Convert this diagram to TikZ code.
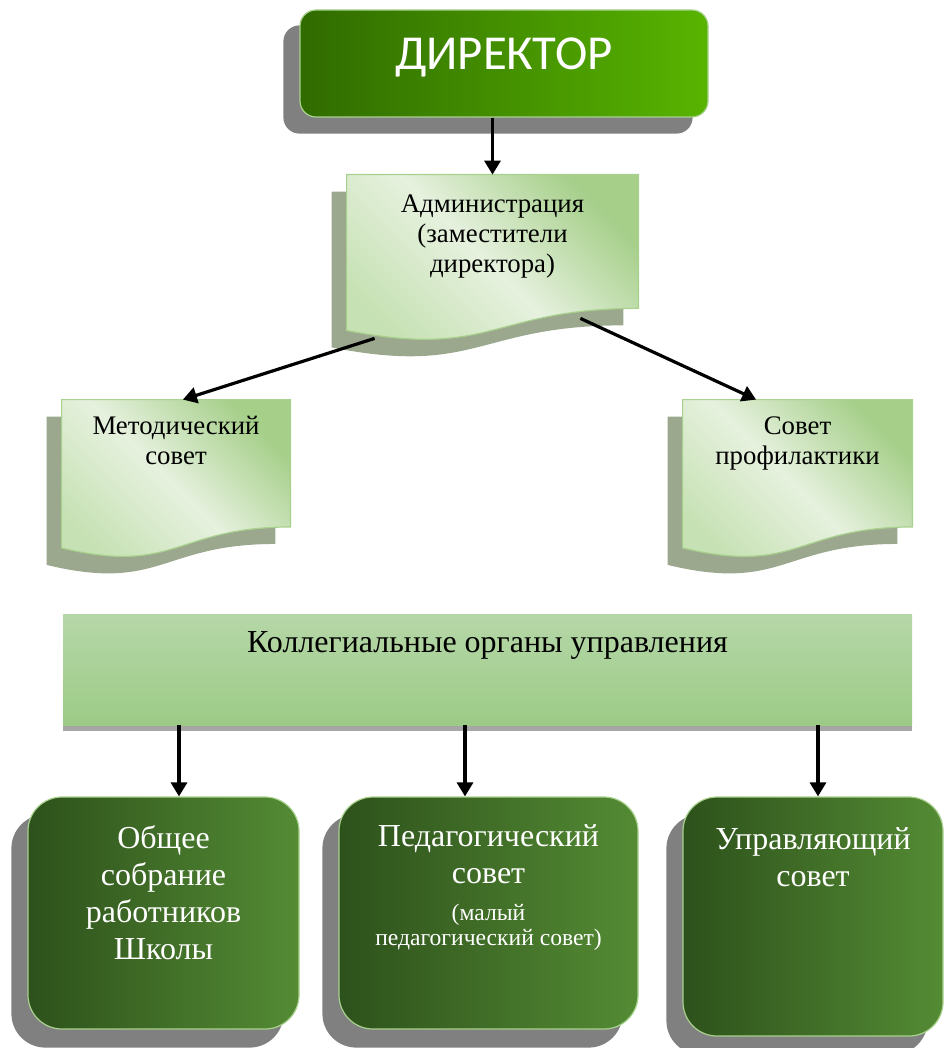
\documentclass[tikz,border=0pt]{standalone}
\usepackage{fontspec}
\setmainfont{Liberation Serif}
\newfontfamily\dirfont{Carlito}
\usetikzlibrary{arrows.meta,calc,positioning,backgrounds}

\definecolor{dirleft}{HTML}{306B00}
\definecolor{dirright}{HTML}{58B400}
\definecolor{edgegreen}{HTML}{A9D18E}
\definecolor{docdark}{HTML}{A6CF8A}
\definecolor{doclight}{HTML}{E6F1DE}
\definecolor{doclow}{HTML}{C6E1B3}
\definecolor{docshadow}{HTML}{9BA88E}
\definecolor{bartop}{HTML}{B6D7A8}
\definecolor{barbottom}{HTML}{9CCB86}
\definecolor{boxleft}{HTML}{2D511B}
\definecolor{boxright}{HTML}{548B34}
\definecolor{shadowgray}{HTML}{808080}
\definecolor{bargray}{HTML}{A6A6A6}

\tikzset{
  arr/.style={line width=1.6pt, -{Triangle[length=7pt,width=8pt]}},
  dirbox/.style={rounded corners=8pt, draw=edgegreen, line width=0.6pt,
    left color=dirleft, right color=dirright, inner sep=0pt,
    minimum width=204pt, minimum height=53.5pt},
  docnode/.style={inner sep=0pt, minimum width=114pt, minimum height=79pt},
  docshape/.style={draw=edgegreen, line width=0.6pt, top color=docdark,
    bottom color=doclow, middle color=doclight, shading angle=-45},
  doctext/.style={font=\fontsize{13.4pt}{15pt}\selectfont, align=center, inner sep=0pt},
  barbox/.style={top color=bartop, bottom color=barbottom, inner sep=0pt,
    minimum width=424.5pt, minimum height=55.5pt},
  greenbox/.style={rounded corners=17pt, draw=edgegreen, line width=0.6pt,
    left color=boxleft, right color=boxright, inner sep=0pt,
    minimum width=135.5pt, minimum height=116pt},
  boxtext/.style={font=\fontsize{16pt}{18.5pt}\selectfont, text=white,
    align=center, inner sep=0pt},
}
\newcommand\smalltxt{\fontsize{11.8pt}{12pt}\selectfont}
% document shape (flat top, wavy bottom)
\newcommand\docpath[1]{(#1.north west) -- (#1.north east)
  -- ($(#1.south east)!0.198!(#1.north east)$)
  .. controls ($(#1.south)!0.198!(#1.north)$) and ($(#1.south)!-0.1075!(#1.north)$)
  .. ($(#1.south west)!0.066!(#1.north west)$) -- cycle}

\begin{document}
\begin{tikzpicture}[x=0.5pt,y=-0.5pt]
  \useasboundingbox (0,0) rectangle (944,1048);

  % top
  \node[dirbox, label={[anchor=base, yshift=-30pt, text=white,
      font=\dirfont\fontsize{24.4pt}{28pt}\selectfont]north:ДИРЕКТОР}]
    (dir) at (504,63.5) {};
  \node[docnode, minimum width=145.5pt, minimum height=83pt,
      label={[doctext, anchor=north, yshift=-9.7pt]north:Администрация\\(заместители\\директора)}]
    (adm) at (492.5,258) {};

  % councils
  \node[docnode, label={[doctext, anchor=north, yshift=-8.3pt]north:Методический\\совет}]
    (met) at (176,479) {};
  \node[docnode, minimum width=114.5pt,
      label={[doctext, anchor=north, yshift=-8.5pt]north:Совет\\профилактики}]
    (pro) at (797.5,479) {};

  % collegial bodies
  \node[barbox, label={[anchor=base, yshift=-19.5pt,
      font=\fontsize{16pt}{18pt}\selectfont]north:Коллегиальные органы управления}]
    (kol) at (487.5,669.5) {};

  \node[greenbox, label={[boxtext, anchor=north, yshift=-14.2pt]north:Общее\\собрание\\работников\\Школы}]
    (obs) at (163.5,913) {};
  \node[greenbox, minimum width=149.5pt,
      label={[boxtext, anchor=north, yshift=-13.9pt]north:Педагогический\\совет\\\smalltxt(малый\\[-6pt]\smalltxt педагогический совет)}]
    (ped) at (488.5,913) {};
  \node[greenbox, minimum width=130pt, minimum height=119.5pt,
      label={[boxtext, anchor=north, yshift=-15.4pt]north:Управляющий\\совет}]
    (upr) at (813,916.5) {};

  \begin{scope}[on background layer]
    % shadows
    \path[fill=shadowgray, rounded corners=8pt, transform canvas={xshift=-8pt,yshift=-8pt}]
      (dir.north west) rectangle (dir.south east);
    \foreach \n in {adm,met,pro}
      \path[fill=docshadow, transform canvas={xshift=-7.5pt,yshift=-8.5pt}] \docpath{\n};
    \path[fill=bargray, transform canvas={yshift=-3pt}]
      (kol.north west) rectangle (kol.south east);
    \foreach \n in {obs,ped,upr}
      \path[fill=shadowgray, rounded corners=17pt, transform canvas={xshift=-8pt,yshift=-9pt}]
        (\n.north west) rectangle (\n.south east);
    % document shapes
    \foreach \n in {adm,met,pro}
      \path[docshape] \docpath{\n};
  \end{scope}

  \coordinate (adm-l) at ($(adm.south west)+(28,-3)$);
  \coordinate (adm-r) at ($(adm.south east)+(-58,-23)$);
  \coordinate (met-in) at ($(met.north west)!0.53!(met.north east)$);
  \coordinate (pro-in) at ($(pro.north west)!0.32!(pro.north east)$);
  \coordinate (obs-in) at ($(obs.north)+(15.5,0)$);
  \coordinate (ped-in) at ($(ped.north)+(-23.5,0)$);
  \coordinate (upr-in) at ($(upr.north)+(5,0)$);

  \draw[arr] (dir.south -| adm.north) -- (adm.north);
  \draw[arr] (adm-l) -- (met-in);
  \draw[arr] (adm-r) -- (pro-in);
  \foreach \n in {obs,ped,upr}
    \draw[arr] (kol.south -| \n-in) -- (\n-in);
\end{tikzpicture}
\end{document}
